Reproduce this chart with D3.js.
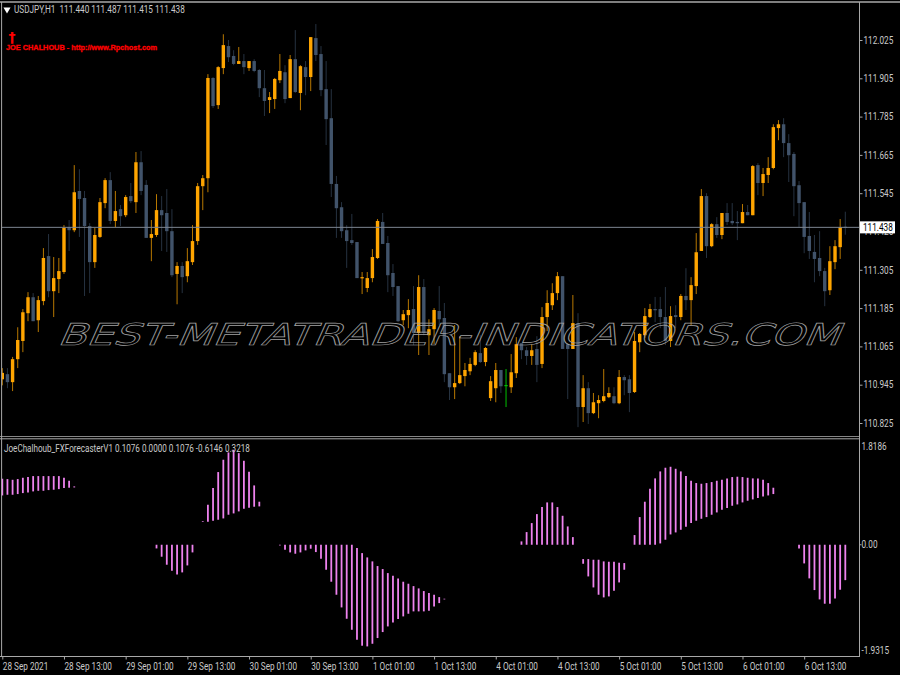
<!DOCTYPE html>
<html>
<head>
<meta charset="utf-8">
<script src="https://cdn.jsdelivr.net/npm/d3@7/dist/d3.min.js"></script>
<style>
html,body{margin:0;padding:0;background:#000;overflow:hidden}
svg{display:block}
</style>
</head>
<body>
<svg id="c" width="900" height="675"></svg>
<script>
const opens=[
110.962,110.978,110.953,111.025,111.082,111.169,111.219,111.147,111.207,111.348,
111.238,111.276,111.298,111.439,111.429,111.552,111.530,111.442,111.329,111.408,
111.514,111.586,111.458,111.495,111.476,111.536,111.517,111.642,111.571,111.405,
111.414,111.492,111.483,111.426,111.292,111.317,111.285,111.329,111.395,111.567,
111.592,111.906,111.821,111.937,112.006,111.975,111.950,111.959,111.937,111.959,
111.931,111.874,111.837,111.840,111.899,111.924,111.843,111.965,111.859,111.940,
111.909,112.031,111.981,111.871,111.780,111.574,111.501,111.429,111.398,111.392,
111.279,111.248,111.279,111.342,111.455,111.389,111.295,111.254,111.147,111.163,
111.182,111.107,111.251,111.100,111.119,111.176,111.154,110.981,110.937,110.950,
110.972,110.987,111.007,111.044,111.016,110.903,110.934,110.991,110.944,110.937,
110.981,111.075,111.053,111.035,111.057,111.010,111.157,111.194,111.232,111.285,
111.072,111.057,111.138,110.875,110.934,110.856,110.887,110.894,110.906,110.909,
110.887,110.969,110.962,110.922,111.078,111.100,111.157,111.182,111.182,111.157,
111.082,111.163,111.157,111.223,111.210,111.254,111.364,111.536,111.379,111.448,
111.414,111.483,111.458,111.455,111.451,111.486,111.476,111.633,111.577,111.602,
111.624,111.749,111.761,111.702,111.668,111.570,111.517,111.411,111.361,111.342,
111.301,111.241,111.329,111.376,111.440];
const highs=[
110.997,110.997,111.032,111.125,111.182,111.235,111.232,111.223,111.373,111.417,
111.345,111.342,111.445,111.461,111.633,111.620,111.552,111.451,111.436,111.530,
111.592,111.611,111.552,111.508,111.539,111.577,111.674,111.677,111.586,111.461,
111.542,111.536,111.558,111.495,111.329,111.329,111.373,111.445,111.577,111.602,
111.918,111.909,111.943,112.043,112.025,111.993,112.003,111.981,111.959,111.965,
111.934,111.931,111.862,111.906,111.981,111.946,111.978,112.056,111.946,111.959,
112.034,112.075,112.006,111.959,111.871,111.599,111.517,111.445,111.480,111.392,
111.298,111.298,111.370,111.464,111.483,111.411,111.323,111.254,111.179,111.213,
111.254,111.288,111.276,111.150,111.185,111.254,111.201,110.981,111.132,111.097,
111.013,111.029,111.053,111.100,111.063,110.972,111.013,110.991,110.994,111.041,
111.094,111.075,111.063,111.072,111.097,111.188,111.241,111.263,111.298,111.285,
111.075,111.226,111.169,110.975,110.953,110.919,110.912,110.994,110.937,110.937,
110.991,110.975,110.975,111.110,111.107,111.185,111.198,111.220,111.220,111.251,
111.191,111.194,111.229,111.310,111.282,111.420,111.558,111.545,111.451,111.470,
111.483,111.514,111.514,111.489,111.511,111.508,111.633,111.639,111.624,111.658,
111.761,111.774,111.780,111.730,111.674,111.583,111.517,111.486,111.414,111.426,
111.311,111.379,111.398,111.464,111.487];
const lows=[
110.943,110.934,110.925,110.997,111.047,111.144,111.144,111.110,111.194,111.219,
111.157,111.232,111.292,111.364,111.423,111.408,111.223,111.232,111.311,111.405,
111.498,111.448,111.439,111.442,111.470,111.514,111.483,111.539,111.405,111.332,
111.408,111.364,111.361,111.282,111.197,111.232,111.266,111.320,111.383,111.492,
111.548,111.812,111.809,111.918,111.956,111.946,111.950,111.918,111.928,111.924,
111.846,111.787,111.796,111.809,111.890,111.827,111.843,111.859,111.805,111.852,
111.865,111.959,111.849,111.696,111.533,111.405,111.405,111.311,111.383,111.279,
111.229,111.235,111.266,111.339,111.386,111.235,111.223,111.141,111.132,111.122,
111.069,111.038,111.100,111.038,111.072,111.132,110.953,110.897,110.900,110.947,
110.940,110.975,111.003,111.013,111.003,110.894,110.890,110.919,110.875,110.919,
110.966,111.025,111.007,111.007,110.953,110.997,111.113,111.179,111.210,111.057,
110.900,111.057,110.812,110.828,110.822,110.853,110.840,110.890,110.903,110.884,
110.884,110.912,110.859,110.919,111.047,111.091,111.154,111.141,111.122,111.069,
111.063,111.122,111.147,111.179,111.132,111.229,111.364,111.342,111.376,111.405,
111.401,111.445,111.445,111.398,111.451,111.476,111.476,111.539,111.536,111.577,
111.620,111.711,111.658,111.580,111.473,111.439,111.357,111.339,111.266,111.285,
111.191,111.226,111.307,111.339,111.415];
const closes=[
110.982,110.953,111.025,111.085,111.172,111.219,111.144,111.210,111.342,111.238,
111.279,111.301,111.436,111.429,111.548,111.527,111.442,111.329,111.414,111.517,
111.586,111.458,111.489,111.473,111.533,111.520,111.642,111.552,111.405,111.417,
111.492,111.476,111.426,111.288,111.317,111.282,111.332,111.395,111.567,111.592,
111.906,111.818,111.940,112.009,111.971,111.950,111.959,111.940,111.959,111.928,
111.874,111.834,111.846,111.903,111.928,111.840,111.965,111.862,111.943,111.909,
112.034,111.978,111.868,111.777,111.574,111.498,111.426,111.395,111.389,111.279,
111.282,111.279,111.345,111.458,111.386,111.288,111.251,111.144,111.166,111.179,
111.107,111.251,111.107,111.119,111.179,111.150,110.978,110.937,110.950,110.975,
110.991,111.010,111.047,111.016,111.060,110.956,110.991,110.940,110.944,110.984,
111.072,111.053,111.035,111.053,111.007,111.157,111.201,111.232,111.285,111.057,
111.057,111.138,110.875,110.934,110.856,110.890,110.897,110.909,110.919,110.887,
110.969,110.959,110.919,111.082,111.104,111.160,111.182,111.179,111.157,111.082,
111.160,111.157,111.223,111.210,111.257,111.360,111.536,111.379,111.448,111.414,
111.483,111.455,111.451,111.451,111.486,111.476,111.630,111.577,111.605,111.624,
111.752,111.761,111.702,111.664,111.567,111.514,111.408,111.364,111.339,111.301,
111.238,111.332,111.379,111.439,111.438];

const oscTop=[
1.146,1.140,1.128,1.140,1.163,1.175,1.192,1.192,1.192,1.192,
1.192,1.192,1.163,1.111,1.013,null,null,null,null,null,
null,null,null,null,null,null,null,null,null,null,
0,0,0,0,0,0,0,0,null,.411,
.694,.984,1.262,1.476,1.603,1.649,1.591,1.458,1.267,1.030,
.747,null,null,null,0,0,0,0,0,0,
0,0,0,0,0,0,0,0,0,-.058,
-.145,-.220,-.289,-.370,-.422,-.492,-.538,-.584,-.642,-.677,
-.718,-.758,-.804,-.839,-.868,-.909,-.937,null,null,null,
null,null,null,null,null,null,null,null,null,null,
null,.058,.220,.376,.532,.654,.735,.735,.654,.503,
.318,.133,null,-.249,-.249,-.260,-.260,-.289,-.295,-.295,
-.312,-.318,null,.168,.480,.747,.972,1.152,1.273,1.337,
1.354,1.319,1.273,1.192,1.111,1.071,1.059,1.071,1.088,1.111,
1.128,1.152,1.175,1.181,1.175,1.163,1.152,1.152,1.128,1.071,
.990,null,null,null,null,0,0,0,0,0,
0,0,0,0,0];
const oscBottom=[
.856,.868,.868,.880,.897,.909,.926,.937,.937,.949,
.955,.966,.984,.990,.995,null,null,null,null,null,
null,null,null,null,null,null,null,null,null,null,
-.064,-.208,-.347,-.451,-.515,-.480,-.359,-.133,null,.399,
.399,.417,.434,.457,.521,.544,.579,.625,.642,.660,
.666,null,null,null,-.012,-.087,-.133,-.156,-.133,-.098,
-.069,-.127,-.243,-.434,-.642,-.868,-1.088,-1.285,-1.476,-1.649,
-1.753,-1.765,-1.719,-1.620,-1.516,-1.418,-1.348,-1.290,-1.244,-1.198,
-1.157,-1.157,-1.157,-1.146,-1.071,-1.013,-.949,null,null,null,
null,null,null,null,null,null,null,null,null,null,
null,0,0,0,0,0,0,0,0,0,
0,0,null,-.330,-.550,-.741,-.868,-.914,-.897,-.799,
-.654,-.434,null,0,0,0,0,0,.023,.087,
.179,.214,.260,.312,.376,.417,.451,.480,.521,.561,
.608,.637,.677,.700,.735,.764,.787,.810,.839,.856,
.880,null,null,null,null,-.064,-.324,-.584,-.787,-.949,
-1.024,-1.024,-.932,-.781,-.6146];

const priceTicks=[112.025,111.905,111.785,111.665,111.545,111.425,111.305,111.185,111.065,110.945,110.825];
const dateLabels=["28 Sep 2021","28 Sep 13:00","29 Sep 01:00","29 Sep 13:00","30 Sep 01:00","30 Sep 13:00","1 Oct 01:00","1 Oct 13:00","4 Oct 01:00","4 Oct 13:00","5 Oct 01:00","5 Oct 13:00","6 Oct 01:00","6 Oct 13:00"];
const dateIndex=[0,12,24,36,48,60,72,84,96,108,120,132,144,156];
const oscTicks=[1.8186,0,-1.9315];
const oscTickLabels=["1.8186","0.00","-1.9315"];
const lastPrice=111.438;
const headerText="USDJPY,H1  111.440 111.487 111.415 111.438";
const oscTitle="JoeChalhoub_FXForecasterV1 0.1076 0.0000 0.1076 -0.6146 0.3218";
const authorText="JOE CHALHOUB - http://www.Rpchost.com";
const watermark="BEST-METATRADER-INDICATORS.COM";

const UP="#FFA500",UPW="#B87800",DN="#41536A",DNW="#263240",DOJI="#00C000",GREY="#C9C9C9",FRAME="#A8A8A8";
const FONT="Roboto,sans-serif",FS=10,SQ=0.82;

function squeeze(sel,f){
  sel.each(function(){
    const l=this.getComputedTextLength();
    this.setAttribute("textLength",(l*f).toFixed(1));
    this.setAttribute("lengthAdjust","spacingAndGlyphs");
  });
}

const svg=d3.select("#c");
const x=d3.scaleLinear().domain([0,164]).range([2.3,845.3]);
const y=d3.scaleLinear().domain([112.025,110.825]).range([40,423]);
const yo=d3.scaleLinear().domain([1.8186,-1.9315]).range([440,656]);

svg.append("rect").attr("width",900).attr("height",675).attr("fill","#000");

const candles=d3.range(opens.length).map(i=>({i,o:opens[i],h:highs[i],l:lows[i],c:closes[i]}));
const col=(d,u,dn)=>d.c>d.o?u:(d.c<d.o?dn:DOJI);

const clip=svg.append("defs").append("clipPath").attr("id","main");
clip.append("rect").attr("x",2).attr("y",3).attr("width",857).attr("height",434);
const main=svg.append("g").attr("clip-path","url(#main)");

main.selectAll("line.w").data(candles).join("line").attr("class","w")
  .attr("x1",d=>x(d.i)).attr("x2",d=>x(d.i))
  .attr("y1",d=>y(d.h)).attr("y2",d=>y(d.l))
  .attr("stroke",d=>col(d,UPW,DNW)).attr("stroke-width",1);
main.selectAll("rect.b").data(candles).join("rect").attr("class","b")
  .attr("x",d=>x(d.i)-1.7).attr("width",3.4)
  .attr("y",d=>Math.min(y(d.o),y(d.c)))
  .attr("height",d=>Math.max(1.2,Math.abs(y(d.o)-y(d.c))))
  .attr("fill",d=>col(d,UP,DN));

main.append("line").attr("x1",2).attr("x2",859).attr("y1",y(lastPrice)).attr("y2",y(lastPrice))
  .attr("stroke","#7C8590").attr("stroke-width",1);

main.append("text").text(watermark)
  .attr("transform","translate(57,345) skewX(-24)")
  .attr("textLength",782).attr("lengthAdjust","spacingAndGlyphs")
  .attr("font-family","'DejaVu Sans',sans-serif").attr("font-size",30)
  .attr("fill","none").attr("stroke","#A0A0A0").attr("stroke-width",0.7);

const osc=svg.append("g");
const oscData=d3.range(oscTop.length).filter(i=>oscTop[i]!==null).map(i=>({i,t:oscTop[i],b:oscBottom[i]}));
osc.selectAll("line").data(oscData).join("line")
  .attr("x1",d=>x(d.i)).attr("x2",d=>x(d.i))
  .attr("y1",d=>yo(d.t)).attr("y2",d=>yo(d.b))
  .attr("stroke","#EE82EE").attr("stroke-width",1.8);

// frame
const frame=svg.append("g").attr("fill","none").attr("stroke",FRAME);
frame.append("line").attr("x1",0).attr("x2",900).attr("y1",2).attr("y2",2).attr("stroke-width",1.4);
frame.append("line").attr("x1",1.6).attr("x2",1.6).attr("y1",2).attr("y2",657).attr("stroke-width",1);
frame.append("line").attr("x1",859.5).attr("x2",859.5).attr("y1",2).attr("y2",657).attr("stroke-width",1);
frame.append("line").attr("x1",0).attr("x2",860).attr("y1",436.5).attr("y2",436.5).attr("stroke-width",0.8);
frame.append("line").attr("x1",0).attr("x2",860).attr("y1",438.8).attr("y2",438.8).attr("stroke-width",1);
frame.append("line").attr("x1",0).attr("x2",860).attr("y1",656.5).attr("y2",656.5).attr("stroke-width",1);

// price axis
const ax=svg.append("g").attr("transform","translate(859.5,0)")
  .call(d3.axisRight(y).tickValues(priceTicks).tickFormat(d3.format(".3f")).tickSize(3).tickPadding(1));
ax.select(".domain").remove();
ax.selectAll("line").attr("stroke",FRAME);
ax.selectAll("text").attr("fill",GREY).attr("font-family",FONT).attr("font-size",FS).call(squeeze,SQ);

// last price tag
const tag=svg.append("g");
tag.append("rect").attr("x",860).attr("y",y(lastPrice)-6).attr("width",35).attr("height",12).attr("fill","#fff");
tag.append("text").text(d3.format(".3f")(lastPrice)).attr("x",863).attr("y",y(lastPrice)).attr("dy","0.33em")
  .attr("fill","#000").attr("font-family",FONT).attr("font-size",FS).call(squeeze,SQ);

// oscillator axis
const ao=svg.append("g").attr("transform","translate(859.5,0)");
const oscLabelY=[447,545,650.5];
ao.selectAll("text").data(oscTicks).join("text")
  .text((d,i)=>oscTickLabels[i])
  .attr("x",2).attr("y",(d,i)=>oscLabelY[i]).attr("dy","0.33em")
  .attr("fill",GREY).attr("font-family",FONT).attr("font-size",FS).call(squeeze,SQ);
ao.selectAll("line").data([0]).join("line")
  .attr("x1",0).attr("x2",2).attr("y1",yo(0)).attr("y2",yo(0)).attr("stroke",FRAME);

// date axis
const ad=svg.append("g").attr("transform","translate(0,656.5)")
  .call(d3.axisBottom(x).tickValues(dateIndex).tickFormat((d,i)=>dateLabels[i]).tickSize(3).tickPadding(3));
ad.select(".domain").remove();
ad.selectAll("line").attr("stroke",FRAME);
ad.selectAll("text").attr("fill",GREY).attr("font-family",FONT).attr("font-size",FS)
  .attr("text-anchor","start").attr("x",0).attr("dy","0.75em").call(squeeze,SQ);

// captions
svg.append("path").attr("d",d3.symbol(d3.symbolTriangle,22)()).attr("fill","#fff")
  .attr("transform","translate(7,9.5) rotate(180)");
svg.append("text").text(headerText).attr("x",14).attr("y",13).style("white-space","pre")
  .attr("fill",GREY).attr("font-family",FONT).attr("font-size",FS).call(squeeze,SQ);
svg.append("text").text(oscTitle).attr("x",4).attr("y",452)
  .attr("fill",GREY).attr("font-family",FONT).attr("font-size",FS).call(squeeze,0.81);
svg.append("text").text("†").attr("x",12).attr("y",42).attr("text-anchor","middle")
  .attr("fill","#FF0000").attr("font-family","'DejaVu Sans',sans-serif").attr("font-weight","bold").attr("font-size",14);
svg.append("text").text(authorText).attr("x",6).attr("y",50)
  .attr("textLength",151).attr("lengthAdjust","spacingAndGlyphs")
  .attr("fill","#FF0000").attr("stroke","#FF0000").attr("stroke-width",0.35)
  .attr("font-family","'Liberation Sans',sans-serif").attr("font-weight","bold").attr("font-size",8);
</script>
</body>
</html>
